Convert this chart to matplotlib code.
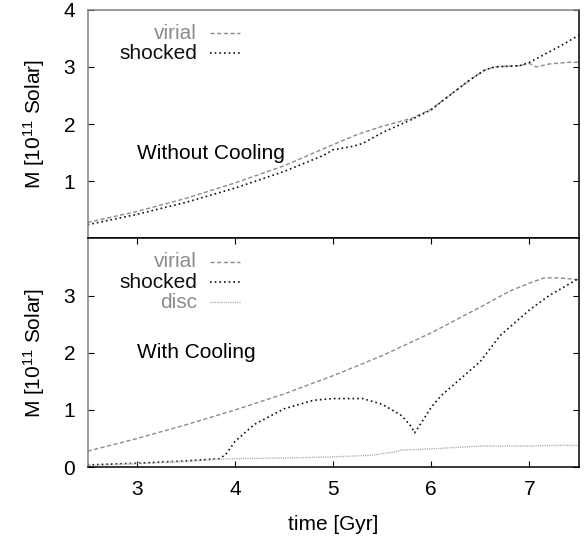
import numpy as np
import matplotlib
matplotlib.use("Agg")
import matplotlib.pyplot as plt

plt.rcParams['font.family'] = ['Liberation Sans', 'DejaVu Sans']
plt.rcParams['mathtext.fontset'] = 'custom'
plt.rcParams['mathtext.rm'] = 'Liberation Sans'
plt.rcParams['mathtext.it'] = 'Liberation Sans:italic'

# --- mass histories, time in Gyr, mass in 1e11 Msun ---
# without cooling
T_VIR_NC = [2.5, 3.0, 3.5, 4.0, 4.5, 5.0, 5.25, 5.5, 5.8, 6.0, 6.2, 6.4, 6.55, 6.65,
            6.9, 7.0, 7.07, 7.2, 7.4, 7.5]
M_VIR_NC = [0.28, 0.47, 0.70, 0.97, 1.27, 1.64, 1.82, 1.96, 2.10, 2.26, 2.52, 2.78, 2.95, 3.0,
            3.02, 3.06, 3.0, 3.05, 3.08, 3.08]
T_SHK_NC = [2.5, 3.0, 3.5, 4.0, 4.5, 4.9, 5.0, 5.2, 5.3, 5.5, 5.8, 6.0, 6.2, 6.4, 6.55, 6.65,
            6.9, 7.0, 7.2, 7.35, 7.5]
M_SHK_NC = [0.24, 0.42, 0.63, 0.88, 1.17, 1.45, 1.55, 1.61, 1.66, 1.85, 2.08, 2.25, 2.52, 2.78,
            2.95, 3.0, 3.02, 3.08, 3.26, 3.40, 3.55]

# with cooling
T_VIR_C = [2.5, 3.0, 3.5, 4.0, 4.5, 5.0, 5.5, 6.0, 6.5, 6.8, 7.0, 7.15, 7.3, 7.5]
M_VIR_C = [0.28, 0.50, 0.74, 1.0, 1.28, 1.60, 1.95, 2.35, 2.80, 3.08, 3.22, 3.31, 3.31, 3.28]
T_SHK_C = [2.5, 3.0, 3.5, 3.85, 3.92, 4.0, 4.2, 4.5, 4.8, 5.0, 5.3, 5.5, 5.7, 5.8, 5.83,
           5.9, 6.0, 6.1, 6.3, 6.5, 6.7, 7.0, 7.2, 7.5]
M_SHK_C = [0.04, 0.07, 0.11, 0.15, 0.25, 0.45, 0.75, 1.02, 1.17, 1.20, 1.20, 1.10, 0.90, 0.70, 0.60,
           0.78, 1.05, 1.25, 1.55, 1.85, 2.30, 2.75, 3.00, 3.30]
T_DISC = [2.5, 3.0, 3.5, 3.85, 4.0, 4.5, 5.0, 5.4, 5.6, 5.7, 6.0, 6.3, 6.5, 7.0, 7.2, 7.5]
M_DISC = [0.03, 0.06, 0.10, 0.14, 0.15, 0.16, 0.18, 0.21, 0.26, 0.30, 0.32, 0.35, 0.37, 0.37, 0.38, 0.38]

XTICKS = [3, 4, 5, 6, 7]

STY = {
    'virial':  dict(color='#8c8c8c', lw=1.0, dashes=(3, 1.8)),
    'shocked': dict(color='#111111', lw=1.2, dashes=(1, 1.8)),
    'disc':    dict(color='#a8a8a8', lw=1.0, dashes=(0.8, 0.8)),
}
TXT_COL = {'virial': '#8c8c8c', 'shocked': '#111111', 'disc': '#8c8c8c'}

FS = 15

fig = plt.figure(figsize=(5.88, 5.37), dpi=100)
L, W = 0.149, 0.835
ax_top = fig.add_axes([L, 0.556, W, 0.426])
ax_bot = fig.add_axes([L, 0.130, W, 0.426])


def key(ax, names, y0, dy=0.088):
    for i, name in enumerate(names):
        y = y0 - i * dy
        ax.text(0.223, y, name, transform=ax.transAxes, ha='right', va='center',
                fontsize=FS, color=TXT_COL[name])
        ax.plot([0.249, 0.311], [y, y], transform=ax.transAxes, **STY[name])


ax_top.plot(T_VIR_NC, M_VIR_NC, **STY['virial'])
ax_top.plot(T_SHK_NC, M_SHK_NC, **STY['shocked'])
key(ax_top, ['virial', 'shocked'], 0.897)
ax_top.text(0.10, 0.373, 'Without Cooling', transform=ax_top.transAxes,
            ha='left', va='center', fontsize=FS)

ax_bot.plot(T_VIR_C, M_VIR_C, **STY['virial'])
ax_bot.plot(T_SHK_C, M_SHK_C, **STY['shocked'])
ax_bot.plot(T_DISC, M_DISC, **STY['disc'])
key(ax_bot, ['virial', 'shocked', 'disc'], 0.897)
ax_bot.text(0.10, 0.50, 'With Cooling', transform=ax_bot.transAxes,
            ha='left', va='center', fontsize=FS)

for ax in (ax_top, ax_bot):
    ax.set_xlim(2.5, 7.5)
    ax.set_ylim(0, 4)
    ax.set_xticks(XTICKS)
    ax.tick_params(direction='in', length=4, width=0.8, labelsize=FS, pad=9,
                   right=True, top=True)
    ax.set_ylabel('M [10$^{11}$ Solar]', fontsize=FS, labelpad=12)
    for s in ax.spines.values():
        s.set_linewidth(1.1)
    ax.spines['left'].set_color('#808080')

ax_top.set_yticks([1, 2, 3, 4])
ax_top.tick_params(axis='x', bottom=False, top=False, labelbottom=False)
ax_top.spines['top'].set_color('#808080')
ax_bot.set_yticks([0, 1, 2, 3])
ax_bot.set_xlabel('time [Gyr]', fontsize=FS, labelpad=12)

fig.savefig('out.png', dpi=100)
